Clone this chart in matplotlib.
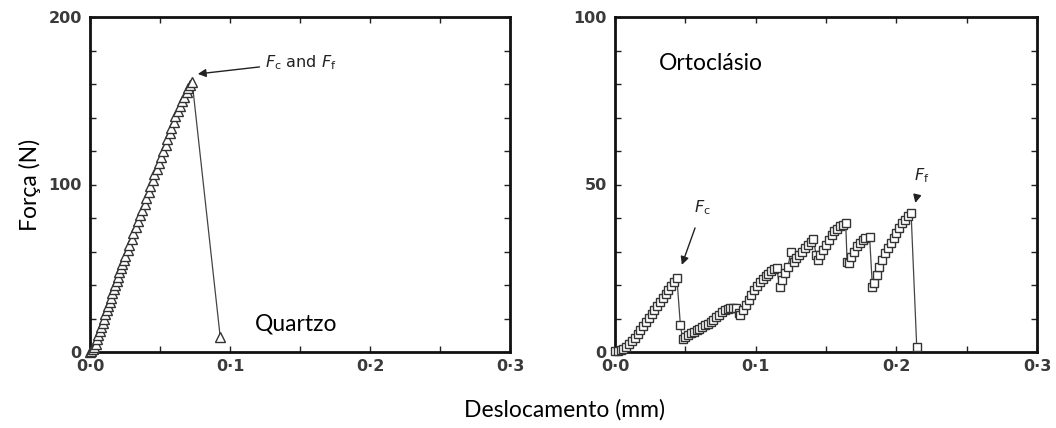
import matplotlib
matplotlib.use("Agg")
import matplotlib.pyplot as plt
from matplotlib.ticker import MultipleLocator, FuncFormatter

# ---------------- data ----------------
quartz_x = [0.000, 0.001, 0.002, 0.003, 0.004, 0.005, 0.006, 0.007, 0.008, 0.009,
            0.010, 0.011, 0.012, 0.013, 0.014, 0.015, 0.016, 0.017, 0.018, 0.019,
            0.020, 0.021, 0.022, 0.023, 0.024, 0.025, 0.027, 0.028, 0.030, 0.031,
            0.033, 0.034, 0.036, 0.037, 0.039, 0.040, 0.042, 0.043, 0.045, 0.046,
            0.048, 0.049, 0.051, 0.052, 0.054, 0.055, 0.057, 0.058, 0.060, 0.061,
            0.063, 0.064, 0.066, 0.067, 0.069, 0.070, 0.0715, 0.073, 0.093]
quartz_y = [0.0, 0.5, 1.5, 3.0, 5.0, 7.5, 10.0, 12.5, 15.0, 17.5,
            20.0, 22.5, 25.0, 27.5, 30.0, 32.5, 35.0, 37.5, 40.0, 42.5,
            45.0, 47.5, 50.0, 52.5, 55.0, 57.5, 61.0, 64.0, 67.5, 71.0,
            74.5, 78.0, 81.5, 85.0, 88.5, 92.0, 95.5, 99.0, 102.5, 106.0,
            109.5, 113.0, 116.5, 120.0, 123.5, 127.0, 130.5, 134.0, 137.5, 141.0,
            144.0, 147.0, 150.0, 152.5, 155.0, 157.5, 159.5, 161.0, 9.0]

orto_x = [0.000, 0.002, 0.004, 0.006, 0.008, 0.010, 0.012, 0.014, 0.016, 0.018,
          0.020, 0.022, 0.024, 0.026, 0.028, 0.030, 0.032, 0.034, 0.036, 0.038,
          0.040, 0.042, 0.044, 0.0465, 0.048, 0.050, 0.052, 0.054, 0.056, 0.058,
          0.060, 0.062, 0.064, 0.066, 0.068, 0.070, 0.072, 0.074, 0.076, 0.078,
          0.080, 0.082, 0.084, 0.086, 0.088, 0.089, 0.091, 0.093, 0.095, 0.097,
          0.099, 0.101, 0.103, 0.105, 0.107, 0.109, 0.111, 0.113, 0.115, 0.117,
          0.119, 0.121, 0.123, 0.125, 0.127, 0.129, 0.131, 0.133, 0.135, 0.137,
          0.139, 0.141, 0.143, 0.144, 0.146, 0.148, 0.150, 0.152, 0.154, 0.156,
          0.158, 0.160, 0.162, 0.164, 0.165, 0.166, 0.168, 0.170, 0.172, 0.174,
          0.176, 0.178, 0.181, 0.183, 0.184, 0.186, 0.188, 0.190, 0.192, 0.194,
          0.196, 0.198, 0.200, 0.202, 0.204, 0.206, 0.208, 0.2105, 0.2145]
orto_y = [0.2, 0.3, 0.6, 1.0, 1.6, 2.4, 3.3, 4.3, 5.4, 6.6,
          7.8, 9.0, 10.2, 11.4, 12.6, 13.8, 15.0, 16.2, 17.3, 18.5,
          19.6, 20.8, 22.0, 8.0, 4.0, 4.5, 5.2, 5.6, 6.0, 6.5,
          7.0, 7.4, 8.0, 8.5, 9.0, 9.6, 10.3, 11.0, 11.8, 12.4,
          12.8, 13.0, 13.2, 13.0, 11.5, 11.0, 12.5, 14.0, 15.5, 17.0,
          18.5, 19.8, 20.8, 21.8, 22.6, 23.4, 24.2, 24.8, 25.2, 19.4,
          21.5, 23.5, 25.5, 30.0, 27.0, 28.0, 29.0, 30.0, 31.0, 32.0,
          32.8, 33.6, 29.0, 27.5, 29.0, 30.5, 32.0, 33.5, 34.8, 36.0,
          36.8, 37.5, 38.0, 38.5, 27.0, 26.6, 28.5, 30.0, 31.5, 32.5,
          33.5, 34.0, 34.3, 19.4, 20.5, 23.0, 25.5, 27.5, 29.5, 31.0,
          32.5, 34.0, 35.5, 37.0, 38.5, 39.5, 40.5, 41.4, 1.5]

x_limits = (0.0, 0.3)
quartz_ylim = (0, 200)
orto_ylim = (0, 100)
ylabel = "Força (N)"
xlabel = "Deslocamento (mm)"

# ---------------- figure ----------------
W, H = 1056, 428
fig = plt.figure(figsize=(W / 100, H / 100), dpi=100)
fig.patch.set_facecolor("white")

ax1 = fig.add_axes([90 / W, 1 - 352 / H, 420 / W, 335 / H])
ax2 = fig.add_axes([615 / W, 1 - 352 / H, 422 / W, 335 / H])

tick_fmt = FuncFormatter(lambda v, p: f"{v:.1f}".replace(".", "·"))
tick_font = dict(family="DejaVu Sans", size=11.5, weight="bold", color="#3a3a3a")

def style(ax, ymaj, ymin):
    ax.set_xlim(*x_limits)
    ax.xaxis.set_major_locator(MultipleLocator(0.1))
    ax.xaxis.set_minor_locator(MultipleLocator(0.05))
    ax.xaxis.set_major_formatter(tick_fmt)
    ax.yaxis.set_major_locator(MultipleLocator(ymaj))
    ax.yaxis.set_minor_locator(MultipleLocator(ymin))
    for s in ax.spines.values():
        s.set_linewidth(2.0)
        s.set_color("#111111")
    ax.tick_params(which="both", direction="in", top=True, right=True,
                   length=4.5, width=1.0, color="#222222")
    ax.tick_params(axis="x", which="major", pad=5)
    ax.tick_params(axis="y", which="major", pad=6)
    for lab in ax.get_xticklabels() + ax.get_yticklabels():
        lab.set_fontfamily(tick_font["family"])
        lab.set_fontsize(tick_font["size"])
        lab.set_fontweight(tick_font["weight"])
        lab.set_color(tick_font["color"])

ax1.plot(quartz_x, quartz_y, color="#444444", lw=0.9, marker="^", ms=7.5,
         mfc="white", mec="#333333", mew=1.0, clip_on=False, zorder=3)
ax1.set_ylim(*quartz_ylim)
style(ax1, 100, 20)

ax2.plot(orto_x, orto_y, color="#444444", lw=0.9, marker="s", ms=6.3,
         mfc="white", mec="#333333", mew=1.0, clip_on=False, zorder=3)
ax2.set_ylim(*orto_ylim)
style(ax2, 50, 10)

ann_font = dict(family="DejaVu Sans", size=11.5, color="#222222")
ax1.annotate(r"$\mathit{F}_{\rm c}$ and $\mathit{F}_{\rm f}$", xy=(0.077, 166),
             xytext=(0.125, 173), va="center", ha="left", **ann_font,
             arrowprops=dict(arrowstyle="-|>", color="#222222", lw=1.0,
                             mutation_scale=12, shrinkA=2, shrinkB=0))
ax2.annotate(r"$\mathit{F}_{\rm c}$", xy=(0.0475, 26), xytext=(0.062, 43),
             va="center", ha="center", **ann_font,
             arrowprops=dict(arrowstyle="-|>", color="#222222", lw=1.0,
                             mutation_scale=12, shrinkA=6, shrinkB=0))
ax2.annotate(r"$\mathit{F}_{\rm f}$", xy=(0.2135, 44.5), xytext=(0.218, 52.5),
             va="center", ha="center", **ann_font,
             arrowprops=dict(arrowstyle="-|>", color="#222222", lw=1.0,
                             mutation_scale=12, shrinkA=6, shrinkB=0))

label_font = dict(family="Lato", size=16.5, color="black")
ax1.text(0.118, 17, "Quartzo", ha="left", va="center", **label_font)
ax2.text(0.031, 86, "Ortoclásio", ha="left", va="center", **label_font)

fig.text(30 / W, 1 - 185 / H, ylabel, rotation=90, ha="center", va="center", **label_font)
fig.text(565 / W, 1 - 410 / H, xlabel, ha="center", va="center", **label_font)

fig.savefig("out.png", dpi=100, facecolor="white")
